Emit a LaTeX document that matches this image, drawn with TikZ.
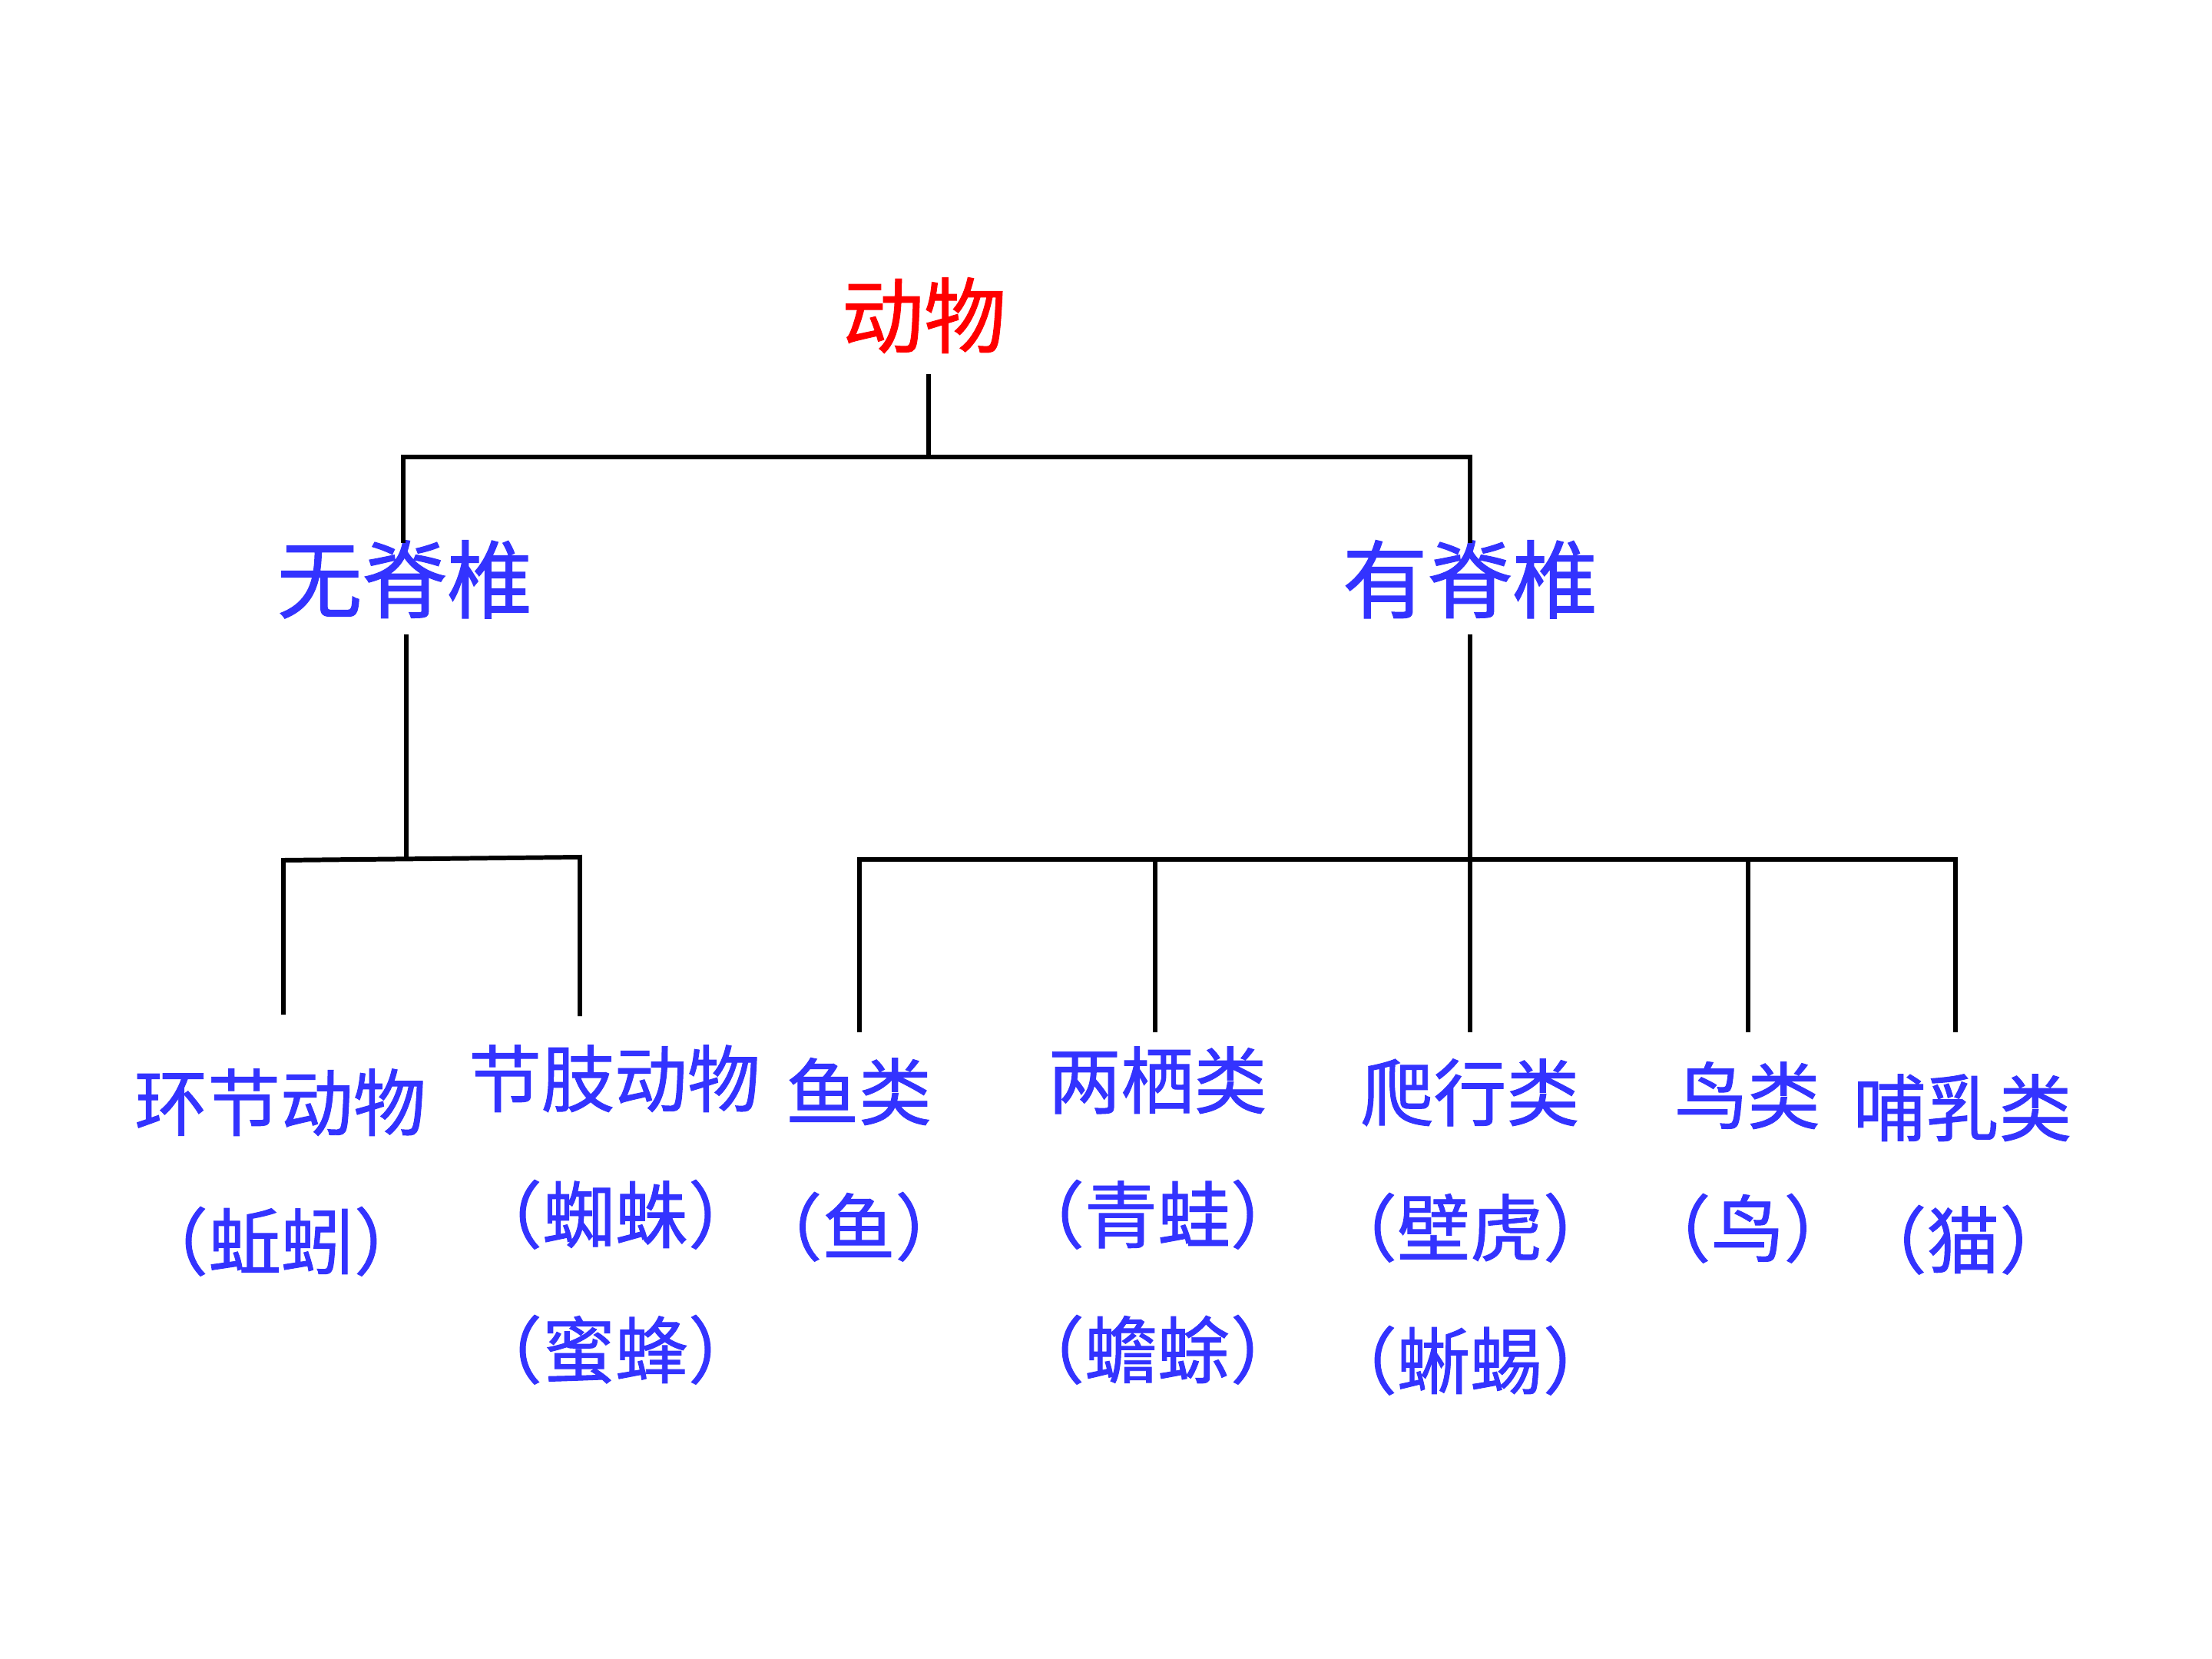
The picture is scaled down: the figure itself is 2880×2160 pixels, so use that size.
\documentclass[tikz,border=0pt]{standalone}
\usepackage{fontspec}
\newfontfamily\cjk{Noto Sans CJK SC}[FakeBold=1]
\definecolor{lblue}{RGB}{51,51,255}
\definecolor{lred}{RGB}{255,0,0}
\begin{document}
\begin{tikzpicture}[x=0.01cm,y=-0.01cm,
  txt/.style={inner sep=0pt, text height=0.88em, text depth=0.12em, anchor=center},
  rootlbl/.style={txt, text=lred, font=\cjk\fontsize{30.5pt}{30.5pt}\selectfont},
  midlbl/.style={txt, text=lblue, font=\cjk\fontsize{31.5pt}{31.5pt}\selectfont},
  leaflbl/.style={txt, text=lblue, font=\cjk\fontsize{27pt}{27pt}\selectfont},
  wire/.style={line width=1.7pt, black}]
\useasboundingbox (0,0) rectangle (2880,2160);
\fill[white] (0,0) rectangle (2880,2160);

% labels
\node[rootlbl] (root) at (1203,438) {动物};
\node[midlbl] (inv) at (527,783) {无脊椎};
\node[midlbl] (ver) at (1914,783) {有脊椎};

\node[leaflbl] (ann) at (365,1458) {环节动物};
\node[leaflbl] (annA) at (366,1639) {（蚯蚓）};
\node[leaflbl] (art) at (800,1427) {节肢动物};
\node[leaflbl] (artA) at (801,1604) {（蜘蛛）};
\node[leaflbl] (artB) at (801,1780) {（蜜蜂）};
\node[leaflbl] (fish) at (1118,1444) {鱼类};
\node[leaflbl] (fishA) at (1118,1620) {（鱼）};
\node[leaflbl] (amph) at (1507,1429) {两栖类};
\node[leaflbl] (amphA) at (1507,1604) {（青蛙）};
\node[leaflbl] (amphB) at (1507,1780) {（蟾蜍）};
\node[leaflbl] (rep) at (1914,1445) {爬行类};
\node[leaflbl] (repA) at (1914,1621) {（壁虎）};
\node[leaflbl] (repB) at (1914,1794) {（蜥蜴）};
\node[leaflbl] (bird) at (2275,1449) {鸟类};
\node[leaflbl] (birdA) at (2275,1622) {（鸟）};
\node[leaflbl] (mam) at (2555,1465) {哺乳类};
\node[leaflbl] (mamA) at (2556,1637) {（猫）};

% junction coordinates
\coordinate (rootEnd) at (1209,487);
\coordinate (rootBus) at (1209,595);
\coordinate (busL) at (525,595);
\coordinate (busR) at (1914,595);
\coordinate (invTop) at (525,707);
\coordinate (verTop) at (1914,707);

\coordinate (invBot) at (529,826);
\coordinate (invBus) at (529,1118);
\coordinate (ibL) at (369,1120);
\coordinate (ibR) at (755,1116);
\coordinate (annTop) at (369,1321);
\coordinate (artTop) at (755,1323);

\coordinate (verBot) at (1914,826);
\coordinate (vbM) at (1914,1119);
\coordinate (vbL) at (1119,1119);
\coordinate (vb2) at (1504,1119);
\coordinate (vb4) at (2276,1119);
\coordinate (vbR) at (2546,1119);
\coordinate (fishTop) at (1119,1344);
\coordinate (amphTop) at (1504,1344);
\coordinate (repTop) at (1914,1344);
\coordinate (birdTop) at (2276,1344);
\coordinate (mamTop) at (2546,1344);

% connectors
\draw[wire] (rootEnd) -- (rootBus);
\draw[wire] (invTop) -- (busL) -- (busR) -- (verTop);

\draw[wire] (invBot) -- (invBus);
\draw[wire] (annTop) -- (ibL) -- (ibR) -- (artTop);

\draw[wire] (verBot) -- (vbM);
\draw[wire] (fishTop) -- (vbL) -- (vbR) -- (mamTop);
\draw[wire] (vb2) -- (amphTop);
\draw[wire] (vbM) -- (repTop);
\draw[wire] (vb4) -- (birdTop);
\end{tikzpicture}
\end{document}
